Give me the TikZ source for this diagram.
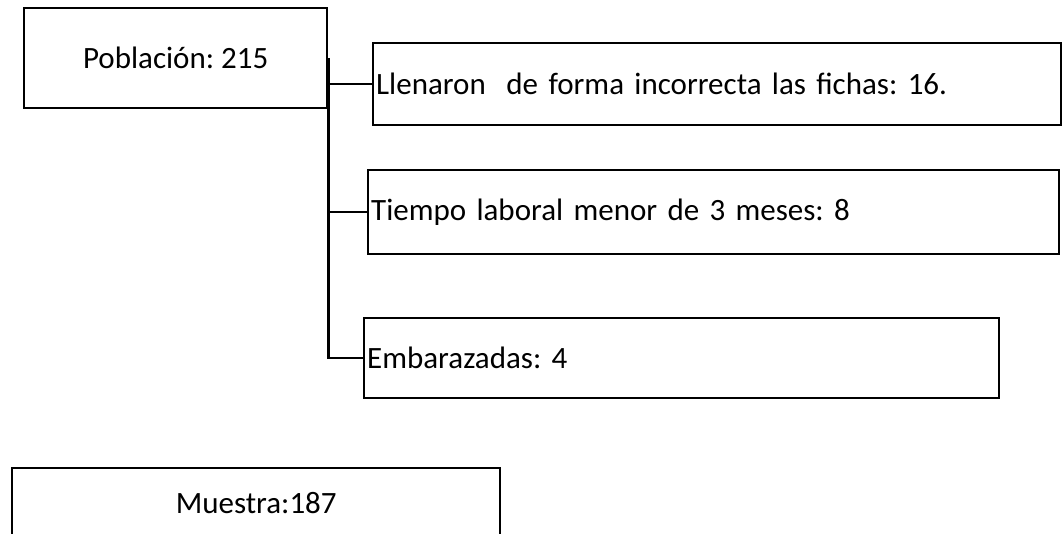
\documentclass[tikz,border=0pt]{standalone}
\usepackage{fontspec}
\setmainfont{Carlito}
\frenchspacing

\begin{document}
\begin{tikzpicture}[x=1pt, y=-1pt,
    caja/.style={draw, rectangle, anchor=north west, line width=2.4pt, inner sep=0pt, font=\fontsize{31}{37}\selectfont},
    lista/.style={caja, align=left, text width=#1, inner xsep=3pt},
    linea/.style={draw, line width=2.4pt}]
    \useasboundingbox (0,0) rectangle (1062,533);

    % Poblacion y exclusiones
    \node[caja, minimum width=303pt, minimum height=100pt] (pob) at (23,7) {Población: 215};
    \node[lista=682pt, minimum height=82pt] (fichas) at (372,42) {Llenaron~ de forma incorrecta las fichas: 16.};
    \node[lista=685pt, minimum height=84pt] (tiempo) at (367,169) {Tiempo laboral menor de 3 meses: 8};
    \node[lista=629pt, minimum height=80pt] (embarazo) at (363,317) {Embarazadas: 4};

    \draw[linea] (pob.east) |- (embarazo.west);
    \draw[linea] (pob.east |- fichas.west) -- (fichas.west);
    \draw[linea] (pob.east |- tiempo.west) -- (tiempo.west);

    % Muestra
    \node[caja, minimum width=488pt, minimum height=70pt] (muestra) at (11,467) {Muestra:187};

\end{tikzpicture}
\end{document}
